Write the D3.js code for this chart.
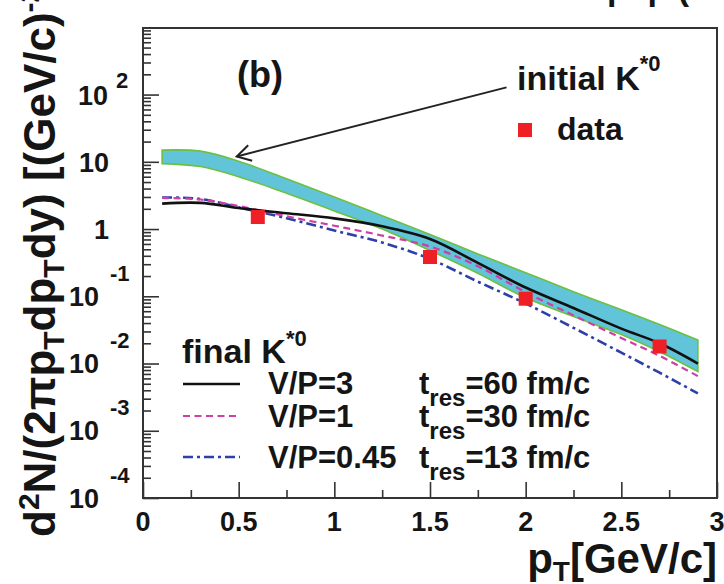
<!DOCTYPE html>
<html><head><meta charset="utf-8">
<script src="https://cdn.jsdelivr.net/npm/d3@7"></script>
<style>
html,body{margin:0;padding:0;background:#fff;}
svg text{font-family:"Liberation Sans",Arial,Helvetica,sans-serif;font-weight:bold;fill:#151515;}
</style></head><body>
<svg id="c" width="724" height="584"></svg>
<script>
// ---------- data ----------
const pt        = [0.1, 0.3, 0.5, 0.75, 1.0, 1.25, 1.5, 1.75, 2.0, 2.25, 2.5, 2.7, 2.9];
const bandUpper = [14.9, 14.4, 10.2, 5.6, 3.0, 1.58, 0.83, 0.427, 0.224, 0.117, 0.063, 0.038, 0.0224];
const bandLower = [9.4, 8.5, 6.0, 3.4, 1.86, 1.0, 0.48, 0.22, 0.095, 0.05, 0.027, 0.015, 0.0076];
const vp3       = [2.39, 2.45, 2.05, 1.72, 1.44, 1.10, 0.71, 0.314, 0.135, 0.067, 0.033, 0.020, 0.010];
const vp1       = [2.9, 2.75, 2.2, 1.55, 1.12, 0.80, 0.55, 0.28, 0.115, 0.052, 0.024, 0.013, 0.0065];
const vp045     = [2.95, 2.8, 2.1, 1.45, 0.95, 0.63, 0.36, 0.165, 0.078, 0.034, 0.0145, 0.0073, 0.0036];
const dataPt    = [0.6, 1.5, 2.0, 2.7];
const dataVal   = [1.51, 0.384, 0.092, 0.0179];

const xTickVals   = [0, 0.5, 1, 1.5, 2, 2.5, 3];
const xTickLabels = ["0", "0.5", "1", "1.5", "2", "2.5", "3"];
const xMinorVals  = [0.25, 0.75, 1.25, 1.75, 2.25, 2.75];
const yTickVals   = [1e-4, 1e-3, 1e-2, 1e-1, 1, 10, 100];
const yTickBase   = ["10", "10", "10", "10", "1", "10", "10"];
const yTickExp    = ["-4", "-3", "-2", "-1", "", "", "2"];

const legendNames = ["V/P=3", "V/P=1", "V/P=0.45"];
const legendTres  = ["=60 fm/c", "=30 fm/c", "=13 fm/c"];
const arrowFrom = [1.9, 128];
const arrowTo   = [0.49, 12];

// ---------- layout ----------
const L = 143, R = 717, T = 28, B = 498;
const yMax = Math.pow(10, 2.99);
const x = d3.scaleLinear().domain([0, 3]).range([L, R]);
const y = d3.scaleLog().domain([1e-4, yMax]).range([B, T]);
const svg = d3.select("#c");

const yMinor = [];
for (let d = -4; d <= 2; d++) for (let m = 2; m <= 9; m++) { const v = m * Math.pow(10, d); if (v < yMax) yMinor.push(v); }

// band
const series = (arr) => pt.map((p, i) => [p, arr[i]]);
const band = pt.map((p, i) => ({p, lo: bandLower[i], hi: bandUpper[i]}));
svg.append("path").datum(band)
  .attr("d", d3.area().curve(d3.curveCatmullRom.alpha(0.5)).x(d => x(d.p)).y0(d => y(d.lo)).y1(d => y(d.hi)))
  .attr("fill", "#62c4d8").attr("stroke", "#6cc040").attr("stroke-width", 1.6);

const line = d3.line().curve(d3.curveCatmullRom.alpha(0.5)).x(d => x(d[0])).y(d => y(d[1]));
const styles = [
  {arr: vp045, color: "#2e3fa8", w: 2.6, dash: "10,4,3,4"},
  {arr: vp1, color: "#cc3fa6", w: 2.2, dash: "7,4.5"},
  {arr: vp3, color: "#111", w: 2.6, dash: null}
];
styles.forEach(s => {
  svg.append("path").datum(series(s.arr)).attr("d", line)
    .attr("fill", "none").attr("stroke", s.color).attr("stroke-width", s.w)
    .attr("stroke-dasharray", s.dash);
});

// data squares
svg.selectAll("rect.dp").data(dataPt.map((p, i) => [p, dataVal[i]])).enter().append("rect")
  .attr("class", "dp").attr("x", d => x(d[0]) - 7).attr("y", d => y(d[1]) - 7)
  .attr("width", 14).attr("height", 14).attr("fill", "#ee2026");

// axes ticks (inside)
function ax(gen, tr) { const g = svg.append("g").attr("transform", tr).call(gen); g.select(".domain").remove(); g.selectAll("text").remove(); g.selectAll("line").attr("stroke", "#333").attr("stroke-width", 1.6); return g; }
ax(d3.axisBottom(x).tickValues(xTickVals).tickSize(-16), `translate(0,${B})`);
ax(d3.axisBottom(x).tickValues(xMinorVals).tickSize(-8), `translate(0,${B})`);
ax(d3.axisLeft(y).tickValues(yTickVals).tickSize(-16), `translate(${L},0)`);
ax(d3.axisLeft(y).tickValues(yMinor).tickSize(-8), `translate(${L},0)`);

// frame
svg.append("rect").attr("x", L).attr("y", T).attr("width", R - L).attr("height", B - T)
  .attr("fill", "none").attr("stroke", "#333").attr("stroke-width", 2);

// x tick labels
svg.selectAll("text.xt").data(xTickVals).enter().append("text").attr("class", "xt")
  .attr("x", d => x(d)).attr("y", 531).attr("text-anchor", "middle").attr("font-size", 27)
  .text((d, i) => xTickLabels[i]);

// y tick labels
yTickVals.forEach((v, i) => {
  const yy = y(v), e = yTickExp[i];
  if (e.startsWith("-")) {
    svg.append("text").attr("x", 99).attr("y", yy + 9.5).attr("text-anchor", "end").attr("font-size", 27).text(yTickBase[i]);
    svg.append("text").attr("x", 110).attr("y", yy - 15.5).attr("font-size", 22).text(e);
  } else if (e) {
    svg.append("text").attr("x", 108).attr("y", yy + 10).attr("text-anchor", "end").attr("font-size", 27).text(yTickBase[i]);
    svg.append("text").attr("x", 116).attr("y", yy - 7).attr("font-size", 22).text(e);
  } else {
    svg.append("text").attr("x", 109).attr("y", yy + 10).attr("text-anchor", "end").attr("font-size", 27).text(yTickBase[i]);
  }
});

// rich text helper: parts = [[text, dy, size]]
function rich(g, xx, yy, parts, size, anchor, rot) {
  const t = g.append("text").attr("font-size", size).attr("text-anchor", anchor || "start");
  if (rot) t.attr("transform", `translate(${xx},${yy}) rotate(${rot})`);
  else t.attr("x", xx).attr("y", yy);
  parts.forEach(p => { t.append("tspan").attr("dy", p[1] || 0).attr("font-size", p[2] || size).text(p[0]); });
  return t;
}

// axis titles
rich(svg, 717, 573, [["p"], ["T", 8, 28], ["[GeV/c]", -8]], 42, "end");
rich(svg, 55, 537, [["d"], ["2", -16, 30], ["N/(2πp", 16], ["T", 9, 30], ["dp", -9], ["T", 9, 30], ["dy) [(GeV/c)", -9], ["-2", -16, 30], ["]", 16]], 44, "start", -90);

// labels
svg.append("text").attr("x", 237).attr("y", 87).attr("font-size", 36).text("(b)");
rich(svg, 517, 90, [["initial K"], ["*0", -19, 22]], 34);
svg.append("rect").attr("x", 518).attr("y", 123).attr("width", 14).attr("height", 14).attr("fill", "#ee2026");
svg.append("text").attr("x", 557).attr("y", 140).attr("font-size", 32).text("data");
rich(svg, 182, 363, [["final K"], ["*0", -17, 22]], 34);
svg.append("text").attr("x", 607).attr("y", 0).attr("font-size", 34).text("p+p (");

// legend rows
const rowLineY = [384, 416, 457], rowBase = [394, 427, 468];
const legStyles = [styles[2], styles[1], styles[0]];
legStyles.forEach((s, i) => {
  svg.append("line").attr("x1", 183).attr("x2", 240).attr("y1", rowLineY[i]).attr("y2", rowLineY[i])
    .attr("stroke", s.color).attr("stroke-width", s.w).attr("stroke-dasharray", s.dash);
  svg.append("text").attr("x", 268).attr("y", rowBase[i]).attr("font-size", 31).text(legendNames[i]);
  rich(svg, 419, rowBase[i], [["t"], ["res", 12, 24], [legendTres[i], -12]], 31);
});

// arrow
const ax1 = x(arrowFrom[0]), ay1 = y(arrowFrom[1]), ax2 = x(arrowTo[0]), ay2 = y(arrowTo[1]);
const ang = Math.atan2(ay1 - ay2, ax1 - ax2), hl = 16, ha = Math.PI / 6;
svg.append("line").attr("x1", ax1).attr("y1", ay1).attr("x2", ax2).attr("y2", ay2).attr("stroke", "#222").attr("stroke-width", 2);
svg.append("path").attr("d", `M${ax2 + hl * Math.cos(ang - ha)},${ay2 + hl * Math.sin(ang - ha)}L${ax2},${ay2}L${ax2 + hl * Math.cos(ang + ha)},${ay2 + hl * Math.sin(ang + ha)}`)
  .attr("fill", "none").attr("stroke", "#222").attr("stroke-width", 2);
</script>
</body></html>
